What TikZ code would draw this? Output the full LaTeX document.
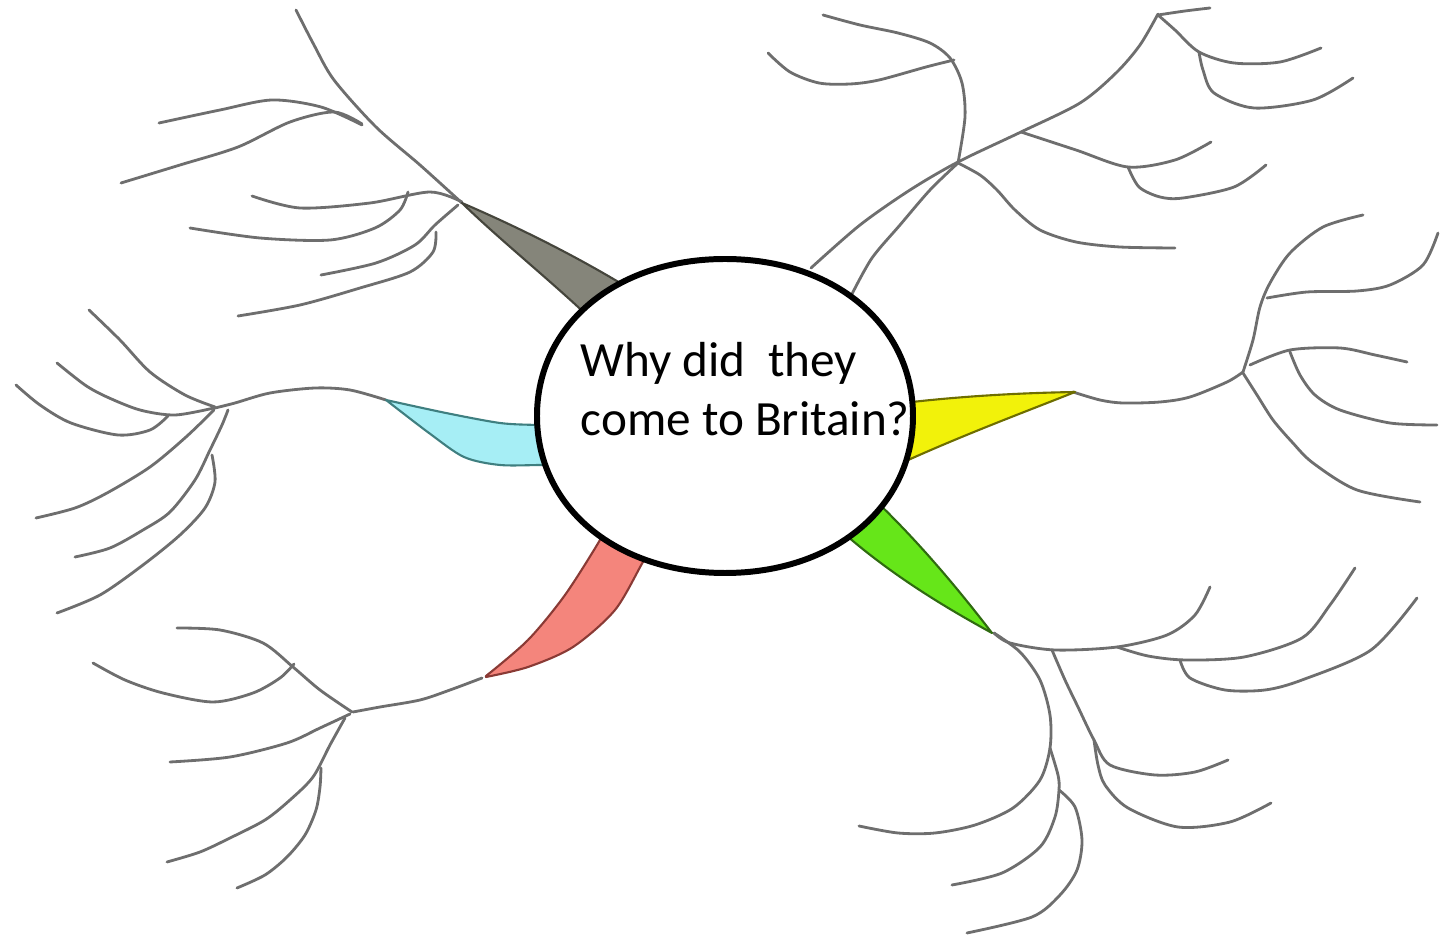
\documentclass[tikz,border=0pt]{standalone}
\usepackage{fontspec}
\setmainfont{Carlito}
\definecolor{twig}{HTML}{6E6E6E}
\definecolor{greyfill}{HTML}{85857A}
\definecolor{greyline}{HTML}{45453C}
\definecolor{cyanfill}{HTML}{A6EEF5}
\definecolor{cyanline}{HTML}{3F7F80}
\definecolor{yellowfill}{HTML}{F2F20A}
\definecolor{yellowline}{HTML}{6E6E00}
\definecolor{greenfill}{HTML}{66E619}
\definecolor{greenline}{HTML}{2F6B10}
\definecolor{redfill}{HTML}{F4857C}
\definecolor{redline}{HTML}{8A3A35}
\tikzset{
  branch/.style={draw=twig,line width=0.8pt,line cap=round,line join=round},
  leaf/.style={line width=0.6pt,line join=round},
  greyleaf/.style={leaf,fill=greyfill,draw=greyline},
  cyanleaf/.style={leaf,fill=cyanfill,draw=cyanline},
  yellowleaf/.style={leaf,fill=yellowfill,draw=yellowline},
  greenleaf/.style={leaf,fill=greenfill,draw=greenline},
  redleaf/.style={leaf,fill=redfill,draw=redline},
  hubline/.style={draw=black,fill=white,line width=1.7pt},
  question/.style={align=left,inner sep=0pt,font=\fontsize{14}{16.6}\selectfont},
}

\begin{document}
\begin{tikzpicture}[x=0.01cm,y=-0.01cm]
\useasboundingbox (0,0) rectangle (1444,940);

% ---------- top left ----------
\draw[branch] plot[smooth] coordinates {(462,203) (420,165) (376,127) (334,80) (314,45) (296,10)};
\draw[branch] plot[smooth] coordinates {(159,123) (220,110) (272,100) (321,107) (362,125)};
\draw[branch] plot[smooth] coordinates {(121,183) (180,165) (238,147) (290,122) (334,112) (362,124)};
\draw[branch] plot[smooth] coordinates {(252,196) (300,208) (370,203) (430,192) (462,202)};
\draw[branch] plot[smooth] coordinates {(190,228) (260,238) (330,240) (375,228) (400,210) (408,192)};
\draw[branch] plot[smooth] coordinates {(321,275) (376,263) (415,245) (435,225) (458,205)};
\draw[branch] plot[smooth] coordinates {(238,316) (300,305) (360,288) (410,272) (433,252) (436,232)};

% ---------- left ----------
\draw[branch] plot[smooth] coordinates {(386,400) (350,390) (315,388) (270,393) (235,403) (215,408)};
\draw[branch] plot[smooth] coordinates {(89,310) (120,340) (150,372) (185,395) (215,407)};
\draw[branch] plot[smooth] coordinates {(57,363) (85,385) (107,397) (140,410) (175,415) (214,408)};
\draw[branch] plot[smooth] coordinates {(16,385) (40,405) (71,423) (118,435) (150,430) (168,416)};
\draw[branch] plot[smooth] coordinates {(36,518) (75,508) (107,493) (150,467) (186,437) (214,410)};
\draw[branch] plot[smooth] coordinates {(75,557) (110,548) (143,530) (170,512) (195,480) (210,450) (222,425) (228,410)};
\draw[branch] plot[smooth] coordinates {(57,613) (100,595) (143,565) (180,535) (205,508) (215,482) (212,455)};

% ---------- bottom left ----------
\draw[branch] plot[smooth] coordinates {(482,678) (450,690) (420,700) (380,707) (353,712)};
\draw[branch] plot[smooth] coordinates {(177,628) (220,630) (263,643) (293,667) (320,690) (352,712)};
\draw[branch] plot[smooth] coordinates {(93,663) (125,680) (163,693) (213,702) (253,693) (280,678) (294,664)};
\draw[branch] plot[smooth] coordinates {(170,762) (230,757) (287,743) (320,728) (350,714)};
\draw[branch] plot[smooth] coordinates {(167,862) (200,852) (230,838) (265,820) (290,800) (313,777) (330,745) (345,718)};
\draw[branch] plot[smooth] coordinates {(237,888) (265,875) (287,857) (305,835) (316,810) (320,787) (321,768)};

% ---------- top right ----------
\draw[branch] plot[smooth] coordinates {(811,268) (860,225) (910,190) (958,162) (1021,132) (1080,103) (1116,73) (1140,45) (1158,14)};
\draw[branch] plot[smooth] coordinates {(852,294) (872,258) (900,225) (930,190) (958,163)};
\draw[branch] plot[smooth] coordinates {(958,163) (965,117) (962,83) (950,58) (930,43) (898,33) (860,25) (823,15)};
\draw[branch] plot[smooth] coordinates {(768,53) (790,72) (819,83) (850,84) (879,80) (926,67) (954,60)};
\draw[branch] plot[smooth] coordinates {(958,163) (980,175) (997,190) (1015,210) (1040,230) (1076,242) (1120,247) (1175,248)};
\draw[branch] plot[smooth] coordinates {(1021,132) (1076,150) (1128,167) (1175,160) (1211,142)};
\draw[branch] plot[smooth] coordinates {(1128,167) (1139,187) (1160,197) (1183,198) (1234,187) (1266,165)};
\draw[branch] plot[smooth] coordinates {(1158,15) (1175,30) (1199,52) (1234,63) (1280,62) (1321,48)};
\draw[branch] plot[smooth] coordinates {(1199,52) (1203,70) (1214,93) (1254,108) (1313,100) (1353,78)};
\draw[branch] plot[smooth] coordinates {(1158,15) (1185,11) (1210,8)};

% ---------- right ----------
\draw[branch] plot[smooth] coordinates {(1073,392) (1100,400) (1123,403) (1160,402) (1190,397) (1227,382) (1243,372)};
\draw[branch] plot[smooth] coordinates {(1243,372) (1253,340) (1260,307) (1270,283) (1290,253) (1323,227) (1363,215)};
\draw[branch] plot[smooth] coordinates {(1267,298) (1307,292) (1357,291) (1390,285) (1423,265) (1438,233)};
\draw[branch] plot[smooth] coordinates {(1250,365) (1290,350) (1340,348) (1375,355) (1407,362)};
\draw[branch] plot[smooth] coordinates {(1290,352) (1300,375) (1315,395) (1340,410) (1390,423) (1437,425)};
\draw[branch] plot[smooth] coordinates {(1243,373) (1257,395) (1273,420) (1292,442) (1313,463) (1357,490) (1420,502)};

% ---------- bottom right ----------
\draw[branch] plot[smooth] coordinates {(994,633) (1020,652) (1040,680) (1050,715) (1050,748) (1040,780) (1013,808) (975,825) (935,833) (898,833) (859,826)};
\draw[branch] plot[smooth] coordinates {(1050,748) (1058,775) (1059,790) (1055,817) (1040,847) (1002,873) (952,885)};
\draw[branch] plot[smooth] coordinates {(1059,790) (1075,807) (1082,840) (1077,870) (1060,895) (1032,917) (967,933)};
\draw[branch] plot[smooth] coordinates {(994,633) (1010,643) (1055,650) (1117,647) (1167,635) (1195,615) (1210,587)};
\draw[branch] plot[smooth] coordinates {(1052,650) (1065,680) (1078,707) (1094,740) (1110,765) (1155,775) (1195,772) (1228,760)};
\draw[branch] plot[smooth] coordinates {(1094,740) (1098,765) (1105,785) (1128,808) (1178,827) (1230,822) (1271,803)};
\draw[branch] plot[smooth] coordinates {(1117,647) (1148,656) (1186,660) (1244,657) (1302,638) (1330,605) (1355,568)};
\draw[branch] plot[smooth] coordinates {(1180,660) (1190,678) (1225,690) (1265,690) (1302,680) (1371,650) (1417,598)};

% ---------- coloured leaves ----------
\draw[greyleaf] (462,203) .. controls (520,228) and (580,258) .. (635,292)
  -- (592,320) .. controls (550,280) and (500,240) .. (462,203) -- cycle;
\draw[cyanleaf] plot[smooth] coordinates {(386,400) (446,413) (500,423) (536,425) (560,426)}
  -- plot[smooth] coordinates {(565,466) (543,465) (500,465) (464,457) (429,433) (386,400)} -- cycle;
\draw[yellowleaf] (1075,392) .. controls (1020,393) and (960,396) .. (895,404)
  -- (895,466) .. controls (960,436) and (1030,410) .. (1075,392) -- cycle;
\draw[greenleaf] (992,633) .. controls (965,598) and (925,548) .. (875,500)
  -- (838,528) .. controls (890,575) and (950,610) .. (992,633) -- cycle;
\draw[redleaf] plot[smooth] coordinates {(486,676) (528,640) (565,595) (600,540) (608,522)}
  -- plot[smooth] coordinates {(655,545) (643,562) (615,610) (573,647) (528,667) (486,677)} -- cycle;

% ---------- centre ----------
\draw[hubline] (913,416) .. controls (913,507) and (834,573) .. (725,573)
  .. controls (616,573) and (537,507) .. (537,416)
  .. controls (537,325) and (616,259) .. (725,259)
  .. controls (834,259) and (913,325) .. (913,416) -- cycle;
\node[question,anchor=north west] (question) at (580,342) {Why did\ \ they\\come to Britain?};

\end{tikzpicture}
\end{document}
